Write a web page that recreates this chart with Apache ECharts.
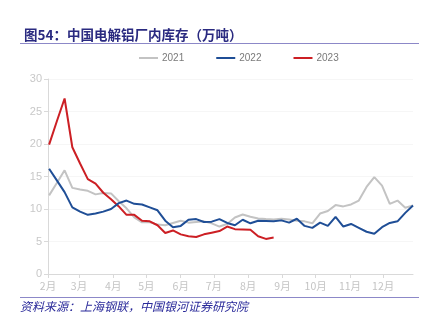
<!DOCTYPE html>
<html><head><meta charset="utf-8">
<script src="https://cdn.jsdelivr.net/npm/echarts@6/dist/echarts.min.js"></script>
<style>html,body{margin:0;padding:0;background:#fff;}#c{width:433px;height:327px;}</style>
</head><body><div id="c"></div>
<script>
// weekly observation dates (plotted on a common 2022 calendar)
const weeks = ['02-02','02-09','02-16','02-23','03-02','03-09','03-16','03-23','03-30','04-06','04-13','04-20','04-27','05-04','05-11','05-18','05-25','06-01','06-08','06-15','06-22','06-29','07-06','07-13','07-20','07-27','08-03','08-10','08-17','08-24','08-31','09-07','09-14','09-21','09-28','10-05','10-12','10-19','10-26','11-02','11-09','11-16','11-23','11-30','12-07','12-14','12-21','12-28'];
const months = [2,3,4,5,6,7,8,9,10,11,12];
const seriesNames = ['2021','2022','2023'];
const v2021 = [12.1,14.0,15.95,13.25,13.0,12.8,12.25,12.45,12.4,11.2,10.1,8.7,7.95,7.95,7.6,7.5,7.85,8.2,7.9,8.0,8.1,7.8,7.3,7.7,8.7,9.15,8.8,8.55,8.45,8.4,8.5,8.4,8.2,8.1,7.8,9.3,9.7,10.6,10.4,10.7,11.3,13.4,14.9,13.6,10.8,11.3,10.2,10.55];
const v2022 = [16.2,14.4,12.6,10.25,9.6,9.1,9.3,9.6,10.0,10.9,11.3,10.8,10.7,10.25,9.8,8.2,7.2,7.4,8.35,8.45,8.0,8.05,8.45,7.85,7.5,8.35,7.8,8.2,8.15,8.1,8.25,7.9,8.5,7.4,7.1,7.9,7.4,8.8,7.3,7.7,7.1,6.5,6.2,7.2,7.85,8.1,9.4,10.55];
const v2023 = [19.9,23.5,27.0,19.5,17.0,14.6,13.9,12.5,11.5,10.4,9.1,9.1,8.2,8.1,7.5,6.3,6.7,6.1,5.8,5.7,6.1,6.35,6.6,7.3,6.9,6.85,6.8,5.8,5.4,5.6];
const colors = ['#c3c3c3','#1f4e96','#cc1f24'];

const dayTs = (m, d) => new Date(2022, m - 1, d).getTime();
const toData = vals => vals.map((v, i) => {
  const [mm, dd] = weeks[i].split('-').map(Number);
  return [dayTs(mm, dd), v];
});
const monthTicks = months.map(m => dayTs(m, 1));

const chart = echarts.init(document.getElementById('c'));
chart.setOption({
  backgroundColor:'#fff',
  animation:false,
  title:{text:'图54：中国电解铝厂内库存（万吨）',left:19,top:23,
    textStyle:{fontSize:13.5,fontWeight:'bold',color:'#2a2a80',fontFamily:'Noto Sans CJK SC'}},
  legend:{top:48,left:134,itemWidth:19,itemHeight:2,itemGap:32,icon:'rect',
    textStyle:{color:'#7a7a7a',fontSize:10,fontFamily:'Liberation Sans',padding:[0,0,0,-1]},
    data:seriesNames},
  grid:{left:48,right:20,top:79,bottom:53},
  xAxis:{type:'value',min:dayTs(2,1),max:dayTs(12,28),
    axisLine:{lineStyle:{color:'#d9d9d9',width:1}},
    axisTick:{show:true,customValues:monthTicks,length:4,lineStyle:{color:'#d9d9d9'}},
    axisLabel:{customValues:monthTicks,color:'#c4c4c4',fontSize:10.5,margin:7,
      fontFamily:'Noto Sans CJK SC',
      formatter:function(v){return (new Date(v).getMonth()+1)+'月';}},
    splitLine:{show:false}},
  yAxis:{type:'value',min:0,max:30,interval:5,
    axisLine:{show:true,lineStyle:{color:'#d9d9d9'}},
    axisTick:{show:true,length:4,lineStyle:{color:'#d9d9d9'}},
    axisLabel:{color:'#c8c8c8',fontSize:11,margin:6,fontFamily:'Liberation Sans'},
    splitLine:{show:true,lineStyle:{color:'#f6f6f6'}}},
  series:[
    {name:seriesNames[0],type:'line',data:toData(v2021),symbol:'none',lineStyle:{width:2,color:colors[0]},itemStyle:{color:colors[0]},z:1},
    {name:seriesNames[1],type:'line',data:toData(v2022),symbol:'none',lineStyle:{width:2,color:colors[1]},itemStyle:{color:colors[1]},z:3},
    {name:seriesNames[2],type:'line',data:toData(v2023),symbol:'none',lineStyle:{width:2,color:colors[2]},itemStyle:{color:colors[2]},z:2}
  ],
  graphic:[
    {type:'line',shape:{x1:20,y1:43.5,x2:419,y2:43.5},style:{stroke:'#8c88c8',lineWidth:1}},
    {type:'line',shape:{x1:20,y1:297.5,x2:419,y2:297.5},style:{stroke:'#8c88c8',lineWidth:1}},
    {type:'text',left:20,top:300,style:{text:'资料来源：上海钢联，中国银河证券研究院',fill:'#2a2a9a',
      font:'italic 12px "Noto Sans CJK SC"'}}
  ]
});
</script></body></html>
